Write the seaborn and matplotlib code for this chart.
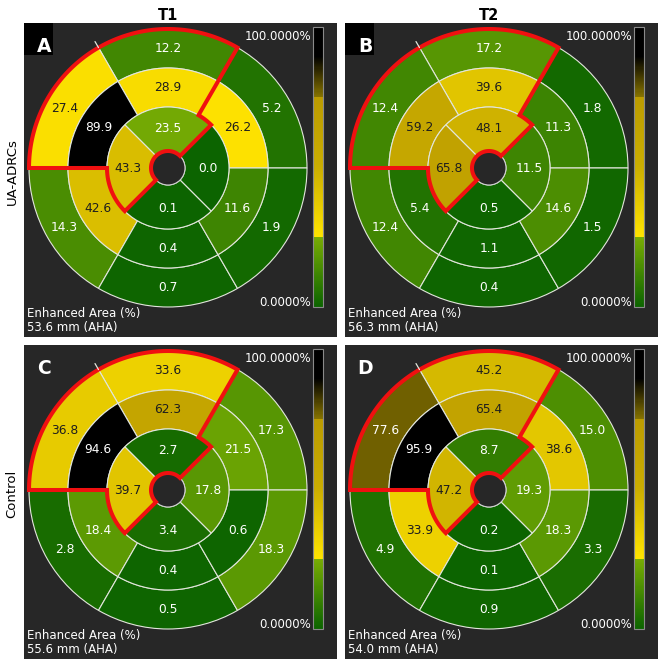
# Bullseye (AHA segment) maps of enhanced area, T1/T2 for UA-ADRCs and Control.

import numpy as np
import seaborn as sns
import matplotlib.pyplot as plt
from matplotlib.patches import Wedge, Circle, Polygon, Rectangle
from matplotlib.colors import ListedColormap, Normalize
from matplotlib.cm import ScalarMappable

sns.set_theme(style="white")
plt.rcParams['font.family'] = ['DejaVu Sans']

# Segment values, ring by ring. Outer and middle rings go counterclockwise
# from 0-60 deg, the inner ring from -45..45 deg.
a_outer = [5.2, 12.2, 27.4, 14.3, 0.7, 1.9]
a_middle = [26.2, 28.9, 89.9, 42.6, 0.4, 11.6]
a_inner = [0.0, 23.5, 43.3, 0.1]

b_outer = [1.8, 17.2, 12.4, 12.4, 0.4, 1.5]
b_middle = [11.3, 39.6, 59.2, 5.4, 1.1, 14.6]
b_inner = [11.5, 48.1, 65.8, 0.5]

c_outer = [17.3, 33.6, 36.8, 2.8, 0.5, 18.3]
c_middle = [21.5, 62.3, 94.6, 18.4, 0.4, 0.6]
c_inner = [17.8, 2.7, 39.7, 3.4]

d_outer = [15.0, 45.2, 77.6, 4.9, 0.9, 3.3]
d_middle = [38.6, 65.4, 95.9, 33.9, 0.1, 18.3]
d_inner = [19.3, 8.7, 47.2, 0.2]

panel_letters = ["A", "B", "C", "D"]
lengths = ["53.6 mm (AHA)", "56.3 mm (AHA)", "55.6 mm (AHA)", "54.0 mm (AHA)"]
col_titles = ["T1", "T2"]
row_titles = ["UA-ADRCs", "Control"]

bg = "#272727"
edge = "#e2e6dc"
red = "#f01010"

# Colormap: green up to 25 %, yellow up to 75 %, then olive into black.
green = sns.blend_palette(["#0c6400", "#78ac04"], 64)
yellow = sns.blend_palette(["#ffe400", "#cbae00", "#bc9c00"], 128)
dark = sns.blend_palette(["#857200", "#000000"], 38) + [(0, 0, 0)] * 26
cmap = ListedColormap(list(green) + list(yellow) + list(dark))
norm = Normalize(0, 100)

R_HOLE, R_IN, R_MID, R_OUT = 17, 61, 100, 139


def arc(r, a0, a1):
    t = np.radians(np.linspace(a0, a1, 80))
    return np.column_stack([r * np.cos(t), r * np.sin(t)])


def draw_bullseye(fig, ax, outer, middle, inner, letter, boxed, length):
    ax.set_facecolor(bg)
    ax.set_xlim(-144, 169)
    ax.set_ylim(-169, 145)
    ax.set_xticks([])
    ax.set_yticks([])
    for s in ax.spines.values():
        s.set_visible(False)

    rings = [(outer, R_MID, R_OUT, 0, 60), (middle, R_IN, R_MID, 0, 60),
             (inner, R_HOLE, R_IN, -45, 90)]
    for vals, r0, r1, start, step in rings:
        for i, v in enumerate(vals):
            t0 = start + i * step
            ax.add_patch(Wedge((0, 0), r1, t0, t0 + step, width=r1 - r0,
                               facecolor=cmap(norm(v)), edgecolor=edge, lw=0.8))
            tm = np.radians(t0 + step / 2)
            rm = (r0 + r1) / 2 if r0 > R_HOLE else 40
            tc = "#1e1e1e" if 25 <= v < 75 else "white"
            ax.text(rm * np.cos(tm), rm * np.sin(tm), f"{v:.1f}", color=tc,
                    fontsize=8.8, ha="center", va="center")

    ax.add_patch(Circle((0, 0), R_HOLE, facecolor=bg, edgecolor="#cfcfcf", lw=0.8))
    t = np.radians(120)
    ax.plot([R_OUT * np.cos(t), 146 * np.cos(t)], [R_OUT * np.sin(t), 146 * np.sin(t)],
            color=edge, lw=0.9)

    # Infarct outline
    pts = np.vstack([arc(R_OUT, 180, 60), arc(R_IN, 60, 45), arc(R_HOLE, 45, 225),
                     arc(R_IN, 225, 180)])
    ax.add_patch(Polygon(pts, closed=True, fill=False, edgecolor=red, lw=2.9,
                         joinstyle="miter"))

    if boxed:
        ax.add_patch(Rectangle((-144, 113), 29, 32, facecolor="black", lw=0))
    ax.text(-123.5, 121, letter, color="white", fontsize=13.5, fontweight="bold",
            ha="center", va="center")

    cax = ax.inset_axes([145, -139, 10, 280], transform=ax.transData)
    cb = fig.colorbar(ScalarMappable(norm=norm, cmap=cmap), cax=cax)
    cb.set_ticks([])
    cb.outline.set_edgecolor("#8a8a8a")
    cb.outline.set_linewidth(0.8)
    ax.text(143, 131, "100.0000%", color="white", fontsize=8.5, ha="right", va="center")
    ax.text(143, -134, "0.0000%", color="white", fontsize=8.5, ha="right", va="center")
    ax.text(-141, -145, "Enhanced Area (%)", color="white", fontsize=8.5,
            ha="left", va="center")
    ax.text(-141, -160, length, color="white", fontsize=8.5, ha="left", va="center")


W, H = 663, 665
fig = plt.figure(figsize=(W / 100, H / 100), dpi=100)
fig.patch.set_facecolor("white")

panels = [(a_outer, a_middle, a_inner), (b_outer, b_middle, b_inner),
          (c_outer, c_middle, c_inner), (d_outer, d_middle, d_inner)]
lefts = [24, 345]
tops = [23, 345]
for k, (o, m, n) in enumerate(panels):
    r, c = divmod(k, 2)
    ax = fig.add_axes([lefts[c] / W, 1 - (tops[r] + 314) / H, 313 / W, 314 / H])
    draw_bullseye(fig, ax, o, m, n, panel_letters[k], r == 0, lengths[k])

for c, name in enumerate(col_titles):
    fig.text((lefts[c] + 144) / W, 1 - 15 / H, name, fontsize=10.5, fontweight="bold",
             ha="center", va="center", color="black")
for r, name in enumerate(row_titles):
    fig.text(12 / W, 1 - (tops[r] + 149) / H, name, fontsize=9.5, rotation=90,
             ha="center", va="center", color="black")

fig.savefig("out.png", dpi=100, facecolor="white")
